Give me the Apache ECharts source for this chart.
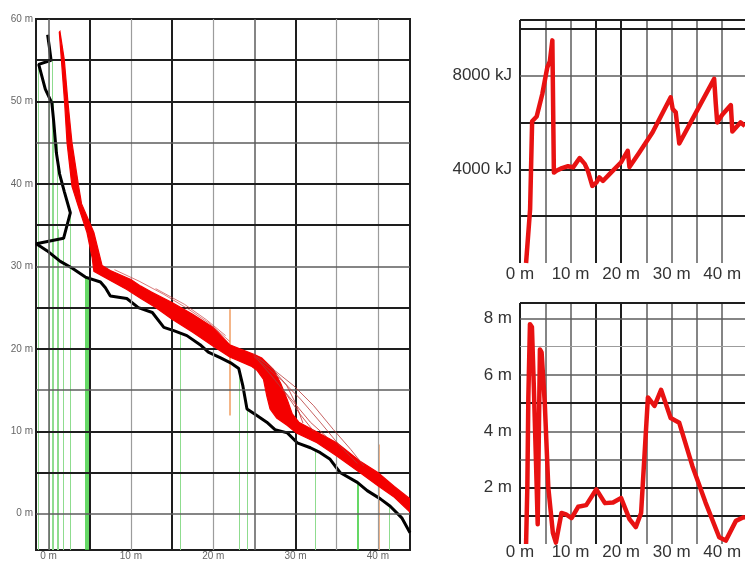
<!DOCTYPE html>
<html><head><meta charset="utf-8">
<script src="https://cdn.jsdelivr.net/npm/echarts@6/dist/echarts.min.js"></script>
<style>html,body{margin:0;padding:0;background:#fff;}#c{width:745px;height:561px;}</style>
</head><body><div id="c"></div>
<script>
// ---------- DATA ----------
// Left chart: terrain profile (x m, y m)
const terrain = [[-0.12,58.1],[0.08,56.7],[0.3,55.0],[-1.2,54.5],[-0.4,51.5],[0.4,49.8],[0.6,47.8],[0.94,43.8],[1.34,41.2],[1.9,39.1],[2.64,36.5],[1.82,33.4],[-1.5,32.75],[-0.2,31.9],[1.42,30.6],[2.84,29.8],[4.46,28.7],[6.3,28.1],[6.9,27.4],[7.5,26.4],[9.5,26.1],[10.9,25.0],[12.6,24.4],[14.0,22.6],[15.2,22.2],[16.8,21.6],[18.4,20.5],[19.4,19.6],[20.9,18.9],[22.1,18.3],[23.1,17.6],[23.6,15.5],[24.1,12.7],[25.3,11.9],[26.5,11.1],[27.5,10.2],[29.0,9.8],[30.2,8.6],[31.8,8.0],[33.0,7.4],[34.2,6.6],[35.4,5.0],[37.5,3.8],[38.7,2.8],[40.3,1.8],[41.5,0.9],[42.9,-0.5],[43.9,-2.3]];
// Left chart: envelope of the bundle of trajectories (down one edge, back up the other)
const bandEdgeA = [[1.30,58.4],[1.55,55.1],[1.95,49.8],[2.24,45.0],[2.84,39.7],[3.6,37.3],[4.66,34.1],[5.3,31.0],[5.5,29.4],[7.5,28.3],[9.5,27.2],[11.2,26.1],[13.0,25.0],[15.0,23.6],[17.5,22.0],[20.0,20.3],[22.0,19.0],[24.6,17.9],[25.3,17.4],[26.1,16.3],[26.5,14.3],[26.9,12.7],[27.7,11.6],[29.0,10.7],[30.1,9.8],[32.6,8.6],[35.0,7.0],[37.8,5.0],[40.0,3.4],[42.0,2.0],[43.9,0.2]];
const bandEdgeB = [[43.9,1.8],[42.0,3.3],[40.0,5.0],[37.8,6.4],[35.0,8.6],[32.6,9.9],[30.4,11.1],[29.6,12.1],[29.0,13.8],[28.2,15.8],[27.3,17.5],[25.9,18.9],[25.0,19.3],[22.0,20.5],[20.0,22.6],[17.5,24.2],[15.0,25.6],[12.5,26.9],[11.2,27.6],[10.0,28.4],[7.5,29.5],[6.5,30.1],[5.5,34.1],[4.0,37.6],[3.65,39.7],[2.84,45.0],[2.36,49.8],[1.9,55.1],[1.38,58.5]];
// Left chart: individual stray trajectories
const stray1 = [[24.8,19.4],[27.3,17.5],[29.8,15.5],[32.2,13.1],[34.6,10.2],[36.7,7.8],[38.3,5.8]];
const stray2 = [[24.9,19.1],[28.2,16.3],[30.6,13.9],[33.0,11.1],[35.4,8.2],[37.5,6.1]];
const stray3 = [[25.3,18.8],[27.75,15.9],[29.8,13.5],[31.8,11.1],[33.8,9.3]];
const stray4 = [[25.5,18.6],[27.3,16.5],[29.0,14.3],[30.6,12.0],[32.2,10.0]];
const stray5 = [[8.0,29.6],[11.0,28.2],[14.0,26.6],[17.0,24.8],[19.5,23.1],[22.0,20.9]];
const stray6 = [[13.0,27.3],[16.5,25.4],[19.2,23.5],[21.5,21.6]];
const stray7 = [[25.2,19.0],[27.0,17.8],[28.9,15.6],[30.0,13.4],[30.9,11.0]];
// Left chart: green vertical markers (x, top y) and orange markers (x, top y, bottom y)
const greenX   = [-1.2, 0.12, 0.41, 0.61, 1.02, 1.2, 1.82, 2.64, 4.46, 4.74, 16.0, 23.1, 24.1, 32.4, 37.6, 41.4];
const greenTop = [54.5, 55.0, 55.0, 50.0, 45.0, 34.5, 33.5, 36.5, 28.7, 28.7, 22.0, 17.6, 12.5, 7.8, 3.8, 0.8];
const orangeX      = [22.0, 40.1];
const orangeTop    = [24.8, 8.4];
const orangeBottom = [11.9, -4.4];
// Right top: energy (x m, kJ)
const energy = [[1.2,0],[2.0,2300],[2.4,6050],[3.3,6250],[4.4,7200],[5.4,8350],[5.9,8600],[6.4,9500],[6.7,3860],[7.3,3950],[8.3,4050],[9.5,4130],[10.5,4080],[11.8,4480],[12.8,4230],[13.4,3950],[14.3,3290],[15.1,3430],[15.7,3650],[16.4,3500],[17.7,3790],[20.0,4300],[21.3,4790],[21.65,4100],[23.6,4720],[26.2,5570],[29.8,7070],[30.2,6570],[30.8,6430],[31.5,5100],[34.1,6140],[38.4,7860],[38.7,6860],[39.0,6000],[40.0,6330],[41.7,6740],[42.0,5610],[43.6,6000],[44.5,5850]];
// Right bottom: height (x m, m)
const height = [[1.2,0],[1.45,2.0],[1.65,5.2],[1.97,7.8],[2.36,7.7],[2.75,5.5],[3.15,3.0],[3.5,0.7],[3.94,6.9],[4.27,6.8],[4.9,5.0],[5.6,2.0],[6.5,0.4],[7.1,0.05],[8.2,1.1],[9.1,1.05],[10.2,0.92],[11.5,1.32],[13.1,1.38],[15.1,1.94],[16.8,1.45],[18.4,1.47],[20.0,1.63],[21.65,0.88],[22.9,0.6],[23.95,1.1],[25.3,5.2],[26.6,4.9],[27.9,5.47],[29.8,4.47],[31.5,4.3],[34.1,2.76],[36.7,1.47],[39.4,0.24],[40.7,0.12],[42.7,0.82],[44.1,0.94],[44.5,0.95]];
// Tick labels
const leftXLabels = [0,10,20,30,40];
const leftYLabels = [0,10,20,30,40,50,60];
const rightXLabels = [0,10,20,30,40];
const energyLabels = [4000,8000];
const heightLabels = [2,4,6,8];
// Grid line positions
const leftXGrid = [0,5,10,15,20,25,30,35,40];
const leftYGrid = [0,5,10,15,20,25,30,35,40,45,50,55];
const rightXGrid = [0,5,10,15,20,25,30,35,40];
const energyGrid = [2000,4000,6000,8000,10000,10370];
const heightGrid = [1,2,3,4,5,6,7,8,8.55];

// ---------- STYLES ----------
const ST = {D:{color:'#1e1e1e',width:2}, M:{color:'#5c5c5c',width:1.5}, L:{color:'#9c9c9c',width:1.2}};
const leftXLevels = ['M','D','L','D','L','M','D','L','L'];
const leftYLevels = ['M','D','D','M','D','D','M','D','D','M','D','D'];
const rightXLevels = ['D','M','M','D','D','M','M','M','M'];
const energyLevels = ['D','D','D','M','D','D'];
const heightLevels = ['D','D','M','M','D','M','L','M','D'];
const FONT = "'Liberation Sans', Arial, sans-serif";
const LMIN_X = -1.53, LMAX_X = 43.9, LMIN_Y = -4.4, LMAX_Y = 60;

function gridSeries(xi, xs, xl, ys, yl) {
  const data = [];
  xs.forEach((v,i)=>data.push({xAxis:v, lineStyle:Object.assign({type:'solid'}, ST[xl[i]])}));
  ys.forEach((v,i)=>data.push({yAxis:v, lineStyle:Object.assign({type:'solid'}, ST[yl[i]])}));
  return {type:'line', xAxisIndex:xi, yAxisIndex:xi, data:[], clip:false, silent:true, z:1,
    markLine:{silent:true, symbol:['none','none'], label:{show:false}, animation:false, data:data}};
}
function trajSeries(d, w, c) {
  return {type:'line', xAxisIndex:0, yAxisIndex:0, data:d, symbol:'none', silent:true, z:6,
    lineStyle:{color:c, width:w}};
}
const bandPoly = bandEdgeA.concat(bandEdgeB);

const chart = echarts.init(document.getElementById('c'), null, {renderer:'canvas'});
const option = {
  animation:false,
  backgroundColor:'#fff',
  grid:[
    {left:36, top:19, width:374, height:532, show:true, borderColor:'#1e1e1e', borderWidth:2},
    {left:520, top:20, width:226, height:243},
    {left:520, top:303, width:226, height:242}
  ],
  xAxis:[
    {type:'value', gridIndex:0, min:LMIN_X, max:LMAX_X, axisLine:{show:false}, axisTick:{show:false}, splitLine:{show:false},
     axisLabel:{customValues:leftXLabels, formatter:v=>v+' m', fontSize:10, color:'#666', fontFamily:FONT, margin:1}},
    {type:'value', gridIndex:1, min:0, max:44.5, axisLine:{show:false}, axisTick:{show:false}, splitLine:{show:false},
     axisLabel:{customValues:rightXLabels, formatter:v=>v+' m', fontSize:17, color:'#333', fontFamily:FONT, margin:3}},
    {type:'value', gridIndex:2, min:0, max:44.5, axisLine:{show:false}, axisTick:{show:false}, splitLine:{show:false},
     axisLabel:{customValues:rightXLabels, formatter:v=>v+' m', fontSize:17, color:'#333', fontFamily:FONT, margin:0}}
  ],
  yAxis:[
    {type:'value', gridIndex:0, min:LMIN_Y, max:LMAX_Y, axisLine:{show:false}, axisTick:{show:false}, splitLine:{show:false},
     axisLabel:{customValues:leftYLabels, formatter:v=>v+' m', fontSize:10, color:'#666', fontFamily:FONT, margin:3}},
    {type:'value', gridIndex:1, min:0, max:10370, axisLine:{show:false}, axisTick:{show:false}, splitLine:{show:false},
     axisLabel:{customValues:energyLabels, formatter:v=>v+' kJ', fontSize:17, color:'#333', fontFamily:FONT, margin:8}},
    {type:'value', gridIndex:2, min:0, max:8.55, axisLine:{show:false}, axisTick:{show:false}, splitLine:{show:false},
     axisLabel:{customValues:heightLabels, formatter:v=>v+' m', fontSize:17, color:'#333', fontFamily:FONT, margin:8}}
  ],
  series:[
    gridSeries(0, leftXGrid, leftXLevels, leftYGrid, leftYLevels),
    gridSeries(1, rightXGrid, rightXLevels, energyGrid, energyLevels),
    gridSeries(2, rightXGrid, rightXLevels, heightGrid, heightLevels),
    {type:'lines', coordinateSystem:'cartesian2d', xAxisIndex:0, yAxisIndex:0, silent:true, z:2,
     lineStyle:{color:'#8fdc8f', width:1, opacity:1},
     data: greenX.map((x,i)=>{
       const strong = (x>4 && x<5) || (x>37 && x<38);
       return {coords:[[x,LMIN_Y],[x,greenTop[i]]], lineStyle: strong ? {color:'#3fcf3f', width:1.6} : {color:'#8fdc8f', width:1}};
     })},
    {type:'lines', coordinateSystem:'cartesian2d', xAxisIndex:0, yAxisIndex:0, silent:true, z:2,
     lineStyle:{color:'#f2a36a', width:1.6, opacity:1},
     data: orangeX.map((x,i)=>({coords:[[x,orangeBottom[i]],[x,orangeTop[i]]]}))},
    {type:'line', xAxisIndex:0, yAxisIndex:0, data:terrain, symbol:'none', silent:true, z:4,
     lineStyle:{color:'#000', width:3}},
    {type:'custom', xAxisIndex:0, yAxisIndex:0, data:[[bandPoly[0][0], bandPoly[0][1]]], silent:true, z:5, clip:true,
     renderItem:function(params, api){
       const pts = bandPoly.map(p=>api.coord(p));
       return {type:'polygon', shape:{points:pts}, style:{fill:'#f40000', stroke:'#f40000', lineWidth:1.2}};
     }},
    trajSeries(stray1, 0.8, '#b83a3a'),
    trajSeries(stray2, 0.8, '#b83a3a'),
    trajSeries(stray3, 0.8, '#c03030'),
    trajSeries(stray4, 0.8, '#c03030'),
    trajSeries(stray5, 0.7, '#c84040'),
    trajSeries(stray6, 0.7, '#c84040'),
    trajSeries(stray7, 0.8, '#c03030'),
    {type:'line', xAxisIndex:1, yAxisIndex:1, data:energy, symbol:'none', silent:true, z:5,
     lineStyle:{color:'#e81212', width:4.5, join:'round'}},
    {type:'line', xAxisIndex:2, yAxisIndex:2, data:height, symbol:'none', silent:true, z:5,
     lineStyle:{color:'#e81212', width:4.5, join:'round'}}
  ]
};
chart.setOption(option);
</script></body></html>
